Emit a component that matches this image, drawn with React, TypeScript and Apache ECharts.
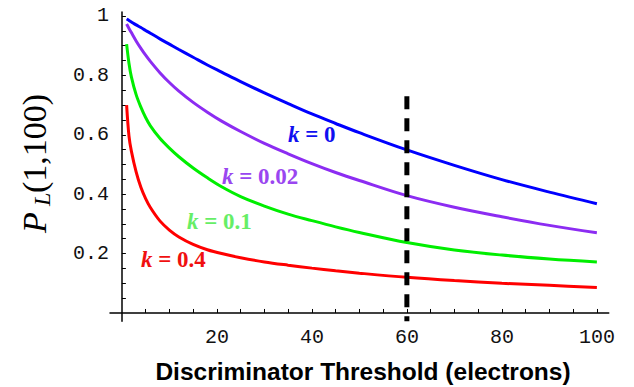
import React, { useEffect, useRef } from 'react';
import * as echarts from 'echarts';

// Discriminator threshold (electrons)
const xs = [1, 1.5, 2, 3, 4, 5, 6, 8, 10, 12, 15, 18, 21, 25, 30, 35, 40, 45, 50, 60, 70, 80, 90, 100];
// P_L(1,100) for each k
const k0 = [0.99, 0.985, 0.98, 0.97, 0.961, 0.951, 0.942, 0.923, 0.905, 0.887, 0.861, 0.835, 0.811, 0.779, 0.741, 0.705, 0.67, 0.638, 0.607, 0.549, 0.497, 0.449, 0.407, 0.368];
const k002 = [0.973, 0.958, 0.944, 0.916, 0.891, 0.868, 0.847, 0.809, 0.776, 0.747, 0.709, 0.676, 0.646, 0.611, 0.571, 0.536, 0.503, 0.473, 0.446, 0.395, 0.356, 0.324, 0.295, 0.27];
const k01 = [0.905, 0.84, 0.795, 0.735, 0.693, 0.658, 0.63, 0.588, 0.555, 0.526, 0.488, 0.455, 0.425, 0.392, 0.36, 0.333, 0.311, 0.29, 0.271, 0.237, 0.212, 0.195, 0.182, 0.172];
const k04 = [0.7, 0.595, 0.545, 0.475, 0.423, 0.385, 0.355, 0.31, 0.279, 0.256, 0.231, 0.213, 0.2, 0.186, 0.172, 0.161, 0.151, 0.142, 0.134, 0.12, 0.109, 0.1, 0.093, 0.086];

const seriesNames = ['k = 0', 'k = 0.02', 'k = 0.1', 'k = 0.4'];
const seriesValues = [k0, k002, k01, k04];
const seriesColors = ['#0000ff', '#8c2cf2', '#00ee00', '#ff0000'];
const labelColors = ['#1010f0', '#9a46f0', '#66ee66', '#f01010'];
const labelValues = ['0', '0.02', '0.1', '0.4'];

const xTickLabels = [20, 40, 60, 80, 100];
const yTickLabels = [0.2, 0.4, 0.6, 0.8, 1];
const xTicks = [5, 10, 15, 20, 25, 30, 35, 40, 45, 50, 55, 60, 65, 70, 75, 80, 85, 90, 95, 100];
const yTicks = [0.05, 0.1, 0.15, 0.2, 0.25, 0.3, 0.35, 0.4, 0.45, 0.5, 0.55, 0.6, 0.65, 0.7, 0.75, 0.8, 0.85, 0.9, 0.95, 1];

const thresholdX = 60;
const thresholdSpan = [0.73, -0.028];

const labelPos = [
  [288, 134],
  [222, 176.5],
  [187, 221],
  [141, 259],
];

export default function App() {
  const ref = useRef<HTMLDivElement>(null);
  useEffect(() => {
    const chart = echarts.init(ref.current!, null, { renderer: 'svg' });
    const serif = '"Liberation Serif", "Times New Roman", serif';
    const lineSeries = seriesValues.map((vals, i) => ({
      type: 'line',
      name: seriesNames[i],
      data: xs.map((x, j) => [x, vals[j]]),
      showSymbol: false,
      symbol: 'none',
      smooth: 0.35,
      lineStyle: { color: seriesColors[i], width: 3 },
      z: 3,
    }));
    const labelGraphics = labelValues.map((v, i) => ({
      type: 'text',
      x: labelPos[i][0],
      y: labelPos[i][1],
      style: {
        text: `{i|k}{n| = ${v}}`,
        align: 'left',
        verticalAlign: 'middle',
        rich: {
          i: { fontFamily: serif, fontSize: 23, fontStyle: 'italic', fontWeight: 'bold', fill: labelColors[i], color: labelColors[i] },
          n: { fontFamily: serif, fontSize: 23, fontWeight: 'bold', fill: labelColors[i], color: labelColors[i] },
        },
      },
    }));
    chart.setOption({
      animation: false,
      backgroundColor: '#ffffff',
      grid: { left: 110, right: 25.25, top: 12.1, bottom: 65.7, containLabel: false },
      xAxis: {
        type: 'value',
        min: -2.5,
        max: 102.5,
        splitLine: { show: false },
        axisLine: { show: true, onZero: true, lineStyle: { color: '#000', width: 1.5 } },
        axisTick: { show: true, inside: true, length: 4, customValues: xTicks, lineStyle: { color: '#000', width: 1 } },
        axisLabel: {
          customValues: xTickLabels,
          margin: 6,
          fontFamily: '"Liberation Mono", "Courier New", monospace',
          fontSize: 20,
          color: '#111',
        },
      },
      yAxis: {
        type: 'value',
        min: -0.028,
        max: 1.013,
        splitLine: { show: false },
        axisLine: { show: true, onZero: true, lineStyle: { color: '#000', width: 1.5 } },
        axisTick: { show: true, inside: true, length: 4, customValues: yTicks, lineStyle: { color: '#000', width: 1 } },
        axisLabel: {
          customValues: yTickLabels,
          margin: 1,
          fontFamily: '"Liberation Mono", "Courier New", monospace',
          fontSize: 20,
          color: '#111',
          formatter: (v: number) => (Math.abs(v - 1) < 1e-9 ? '1' : v.toFixed(1)),
        },
      },
      series: [
        ...lineSeries,
        {
          type: 'line',
          name: 'threshold',
          data: thresholdSpan.map((y) => [thresholdX, y]),
          showSymbol: false,
          symbol: 'none',
          lineStyle: { color: '#000', width: 5, type: [13, 9] },
          z: 4,
        },
      ],
      graphic: [
        ...labelGraphics,
        {
          type: 'text',
          x: 363,
          y: 371,
          style: {
            text: 'Discriminator Threshold (electrons)',
            fontFamily: '"Liberation Sans", Arial, sans-serif',
            fontSize: 24.5,
            fontWeight: 'bold',
            fill: '#000',
            align: 'center',
            verticalAlign: 'middle',
          },
        },
        {
          type: 'text',
          x: 34.3,
          y: 233,
          rotation: Math.PI / 2,
          style: { text: 'P', fontFamily: serif, fontSize: 34, fontStyle: 'italic', fill: '#000', align: 'left', verticalAlign: 'middle' },
        },
        {
          type: 'text',
          x: 41.8,
          y: 206,
          rotation: Math.PI / 2,
          style: { text: 'L', fontFamily: serif, fontSize: 24, fontStyle: 'italic', fill: '#000', align: 'left', verticalAlign: 'middle' },
        },
        {
          type: 'text',
          x: 34.3,
          y: 193,
          rotation: Math.PI / 2,
          style: { text: '(1,100)', fontFamily: serif, fontSize: 34, fill: '#000', align: 'left', verticalAlign: 'middle' },
        },
      ],
    });
    return () => chart.dispose();
  }, []);
  return <div ref={ref} style={{ position: 'absolute', left: 0, top: 0, width: 634, height: 387 }} />;
}
